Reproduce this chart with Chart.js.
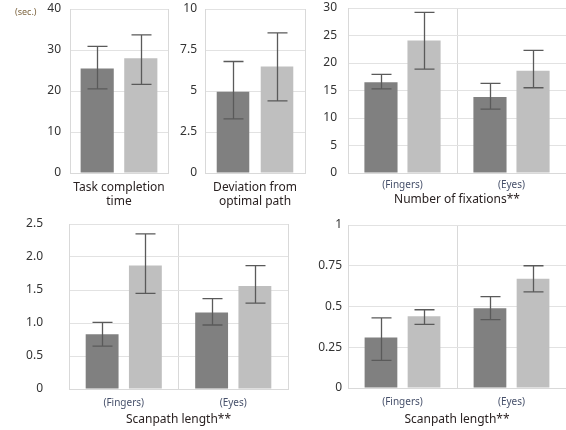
<!DOCTYPE html>
<html>
<head>
<meta charset="utf-8">
<script src="https://cdn.jsdelivr.net/npm/chart.js@4.4.1/dist/chart.umd.min.js"></script>
<style>
  body { margin: 0; background: #fff; }
  .panel { position: absolute; }
</style>
</head>
<body>
<div class="panel" style="left:0px;top:0px;width:172px;height:210px"><canvas id="timeChart"></canvas></div>
<div class="panel" style="left:172px;top:0px;width:138px;height:210px"><canvas id="devChart"></canvas></div>
<div class="panel" style="left:310px;top:0px;width:256px;height:210px"><canvas id="fixChart"></canvas></div>
<div class="panel" style="left:0px;top:210px;width:290px;height:220px"><canvas id="scanChart1"></canvas></div>
<div class="panel" style="left:290px;top:210px;width:276px;height:220px"><canvas id="scanChart2"></canvas></div>
<script>
// groups on the x axis
const groups = ['(Fingers)', '(Eyes)'];

// Task completion time (sec.)
const timeDark = [25.5];
const timeDarkLow = [20.5];
const timeDarkHigh = [30.9];
const timeLight = [28.0];
const timeLightLow = [21.6];
const timeLightHigh = [33.7];

// Deviation from optimal path
const devDark = [4.95];
const devDarkLow = [3.3];
const devDarkHigh = [6.8];
const devLight = [6.5];
const devLightLow = [4.4];
const devLightHigh = [8.55];

// Number of fixations
const fixDark = [16.5, 13.8];
const fixDarkLow = [15.3, 11.6];
const fixDarkHigh = [17.95, 16.3];
const fixLight = [24.1, 18.6];
const fixLightLow = [18.9, 15.5];
const fixLightHigh = [29.2, 22.3];

// Scanpath length (left)
const scan1Dark = [0.83, 1.16];
const scan1DarkLow = [0.65, 0.97];
const scan1DarkHigh = [1.01, 1.37];
const scan1Light = [1.87, 1.56];
const scan1LightLow = [1.45, 1.30];
const scan1LightHigh = [2.35, 1.87];

// Scanpath length (right)
const scan2Dark = [0.31, 0.49];
const scan2DarkLow = [0.17, 0.42];
const scan2DarkHigh = [0.43, 0.56];
const scan2Light = [0.44, 0.67];
const scan2LightLow = [0.39, 0.59];
const scan2LightHigh = [0.48, 0.75];

const DARK = '#808080';
const LIGHT = '#bfbfbf';
const FONT = "'Noto Sans', sans-serif";

// draws the error bars from the low/high arrays stored on each dataset
const errorBars = {
	id: 'errorBars',
	afterDatasetsDraw(chart) {
		const ctx = chart.ctx;
		const yScale = chart.scales.y;
		ctx.save();
		ctx.strokeStyle = '#5a5a5a';
		ctx.lineWidth = 1.3;
		chart.data.datasets.forEach((ds, i) => {
			const meta = chart.getDatasetMeta(i);
			meta.data.forEach((bar, j) => {
				const x = Math.round(bar.x) + 0.5;
				const yLow = yScale.getPixelForValue(ds.low[j]);
				const yHigh = yScale.getPixelForValue(ds.high[j]);
				ctx.beginPath();
				ctx.moveTo(x, yLow);
				ctx.lineTo(x, yHigh);
				ctx.moveTo(x - 10, yLow);
				ctx.lineTo(x + 10, yLow);
				ctx.moveTo(x - 10, yHigh);
				ctx.lineTo(x + 10, yHigh);
				ctx.stroke();
			});
		});
		ctx.restore();
	}
};

// the little unit label next to the top tick of the first panel
const unitLabel = {
	id: 'unitLabel',
	afterDraw(chart) {
		if (chart.canvas.id !== 'timeChart') return;
		const ctx = chart.ctx;
		ctx.save();
		ctx.font = '9px ' + FONT;
		ctx.fillStyle = '#7d6540';
		ctx.textBaseline = 'middle';
		ctx.fillText('(sec.)', 15, 12);
		ctx.restore();
	}
};

const makeChart = (id, o) => {
	const ctx = document.getElementById(id).getContext('2d');
	return new Chart(ctx, {
		type: 'bar',
		data: {
			labels: o.labels,
			datasets: [
				{ data: o.dark, low: o.darkLow, high: o.darkHigh, backgroundColor: DARK,
					categoryPercentage: o.cp, barPercentage: o.bp },
				{ data: o.light, low: o.lightLow, high: o.lightHigh, backgroundColor: LIGHT,
					categoryPercentage: o.cp, barPercentage: o.bp },
			],
		},
		options: {
			responsive: true,
			maintainAspectRatio: false,
			animation: false,
			layout: { padding: { top: o.padTop, right: o.padRight, left: 0, bottom: 0 } },
			plugins: { legend: { display: false }, tooltip: { enabled: false } },
			scales: {
				x: {
					grid: { offset: true, color: '#d9d9d9', drawTicks: false },
					border: { color: '#d9d9d9' },
					ticks: {
						display: o.showTicks,
						padding: o.xTickPad,
						color: '#46506a',
						font: { family: FONT, size: 10 },
					},
					title: {
						display: true,
						text: o.title,
						color: '#2a2222',
						font: { family: FONT, size: 12 },
						padding: { top: 0, bottom: o.titlePad },
					},
					afterFit: (s) => { s.height = o.xHeight; },
				},
				y: {
					min: 0,
					max: o.max,
					ticks: {
						stepSize: o.step,
						padding: o.yTickPad,
						color: '#333',
						font: { family: FONT, size: 12 },
						callback: o.fmt,
					},
					grid: { color: '#e2e2e2', drawTicks: false },
					border: { color: '#d9d9d9' },
					afterFit: (s) => {
						s.width = o.yWidth;
						// plot top is set by layout padding only
						s.paddingTop = 0;
						s.paddingBottom = 0;
					},
				},
			},
		},
		plugins: [errorBars, unitLabel],
	});
};

makeChart('timeChart', {
	labels: [''], dark: timeDark, darkLow: timeDarkLow, darkHigh: timeDarkHigh,
	light: timeLight, lightLow: timeLightLow, lightHigh: timeLightHigh,
	cp: 0.89, bp: 0.76, max: 40, step: 10, fmt: (v) => v,
	title: ['Task completion', 'time'], showTicks: false, xTickPad: 0, titlePad: 1,
	xHeight: 37, yWidth: 70, yTickPad: 9, padTop: 9, padRight: 4,
});

makeChart('devChart', {
	labels: [''], dark: devDark, darkLow: devDarkLow, darkHigh: devDarkHigh,
	light: devLight, lightLow: devLightLow, lightHigh: devLightHigh,
	cp: 0.88, bp: 0.74, max: 10, step: 2.5, fmt: (v) => v,
	title: ['Deviation from', 'optimal path'], showTicks: false, xTickPad: 0, titlePad: 1,
	xHeight: 37, yWidth: 33, yTickPad: 8, padTop: 9, padRight: 5,
});

makeChart('fixChart', {
	labels: groups, dark: fixDark, darkLow: fixDarkLow, darkHigh: fixDarkHigh,
	light: fixLight, lightLow: fixLightLow, lightHigh: fixLightHigh,
	cp: 0.79, bp: 0.77, max: 30, step: 5, fmt: (v) => v,
	title: 'Number of fixations**', showTicks: true, xTickPad: 6, titlePad: 3,
	xHeight: 37, yWidth: 38, yTickPad: 11, padTop: 8, padRight: 0,
});

makeChart('scanChart1', {
	labels: groups, dark: scan1Dark, darkLow: scan1DarkLow, darkHigh: scan1DarkHigh,
	light: scan1Light, lightLow: scan1LightLow, lightHigh: scan1LightHigh,
	cp: 0.79, bp: 0.76, max: 2.5, step: 0.5, fmt: (v) => (v === 0 ? '0' : v.toFixed(1)),
	title: 'Scanpath length**', showTicks: true, xTickPad: 8, titlePad: 3,
	xHeight: 41, yWidth: 69, yTickPad: 26, padTop: 14, padRight: 2,
});

makeChart('scanChart2', {
	labels: groups, dark: scan2Dark, darkLow: scan2DarkLow, darkHigh: scan2DarkHigh,
	light: scan2Light, lightLow: scan2LightLow, lightHigh: scan2LightHigh,
	cp: 0.79, bp: 0.76, max: 1, step: 0.25, fmt: (v) => v,
	title: 'Scanpath length**', showTicks: true, xTickPad: 8, titlePad: 3,
	xHeight: 42, yWidth: 58, yTickPad: 6, padTop: 15, padRight: 0,
});
</script>
</body>
</html>
